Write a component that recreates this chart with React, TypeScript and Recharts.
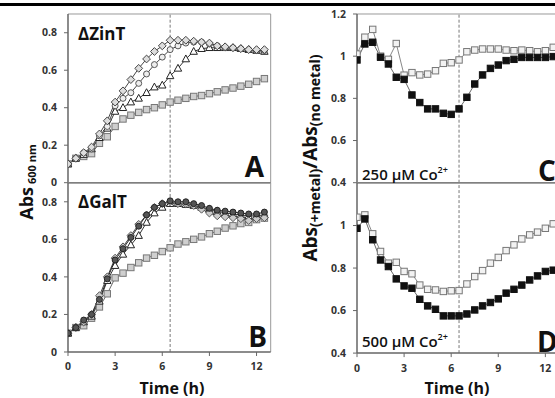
import { LineChart, Line, XAxis, YAxis, ReferenceLine } from 'recharts';

// sampling times (h)
const TIME = [0, 0.5, 1, 1.5, 2, 2.5, 3, 3.5, 4, 4.5, 5, 5.5, 6, 6.5, 7, 7.5, 8, 8.5, 9, 9.5, 10, 10.5, 11, 11.5, 12, 12.5];

// panel A - ΔZinT, Abs 600 nm
const ZINT_DIAMOND = [0.10, 0.13, 0.16, 0.19, 0.26, 0.33, 0.43, 0.49, 0.55, 0.61, 0.66, 0.70, 0.73, 0.76, 0.76, 0.76, 0.755, 0.75, 0.745, 0.73, 0.725, 0.72, 0.715, 0.71, 0.71, 0.71];
const ZINT_CIRCLE = [0.10, 0.13, 0.16, 0.18, 0.25, 0.30, 0.41, 0.45, 0.48, 0.53, 0.58, 0.63, 0.67, 0.71, 0.73, 0.745, 0.75, 0.75, 0.74, 0.73, 0.72, 0.72, 0.715, 0.71, 0.705, 0.705];
const ZINT_TRIANGLE = [0.10, 0.13, 0.15, 0.18, 0.24, 0.29, 0.38, 0.40, 0.43, 0.45, 0.48, 0.51, 0.52, 0.57, 0.61, 0.66, 0.70, 0.715, 0.72, 0.72, 0.72, 0.72, 0.715, 0.71, 0.705, 0.70];
const ZINT_SQUARE = [0.10, 0.13, 0.14, 0.155, 0.21, 0.245, 0.30, 0.34, 0.36, 0.375, 0.39, 0.40, 0.415, 0.43, 0.44, 0.45, 0.46, 0.465, 0.475, 0.485, 0.495, 0.505, 0.515, 0.525, 0.54, 0.555];

// panel B - ΔGalT, Abs 600 nm
const GALT_CIRCLE = [0.10, 0.13, 0.17, 0.20, 0.28, 0.39, 0.49, 0.55, 0.61, 0.67, 0.73, 0.77, 0.79, 0.805, 0.80, 0.80, 0.79, 0.78, 0.765, 0.755, 0.75, 0.745, 0.74, 0.735, 0.735, 0.745];
const GALT_DIAMOND = [0.10, 0.13, 0.16, 0.20, 0.30, 0.40, 0.50, 0.56, 0.62, 0.68, 0.73, 0.77, 0.79, 0.80, 0.79, 0.79, 0.78, 0.76, 0.74, 0.725, 0.72, 0.715, 0.71, 0.70, 0.71, 0.715];
const GALT_TRIANGLE = [0.10, 0.13, 0.16, 0.19, 0.27, 0.38, 0.46, 0.52, 0.57, 0.62, 0.69, 0.74, 0.77, 0.79, 0.79, 0.785, 0.78, 0.77, 0.76, 0.75, 0.74, 0.735, 0.73, 0.725, 0.725, 0.73];
const GALT_SQUARE = [0.10, 0.13, 0.14, 0.18, 0.24, 0.31, 0.395, 0.42, 0.45, 0.475, 0.50, 0.515, 0.535, 0.555, 0.575, 0.587, 0.60, 0.613, 0.63, 0.643, 0.66, 0.672, 0.684, 0.69, 0.705, 0.713];

// panel C - 250 µM Co2+, Abs(+metal)/Abs(no metal)
const CO250_OPEN = [1.01, 1.09, 1.127, 1.0, 0.985, 1.06, 0.91, 0.922, 0.911, 0.915, 0.931, 0.966, 0.969, 0.982, 1.021, 1.029, 1.034, 1.034, 1.034, 1.029, 1.026, 1.029, 1.026, 1.021, 1.026, 1.042];
const CO250_FILLED = [0.982, 1.058, 1.066, 0.995, 0.963, 0.90, 0.89, 0.816, 0.78, 0.75, 0.75, 0.729, 0.724, 0.75, 0.805, 0.868, 0.911, 0.942, 0.958, 0.979, 0.985, 0.994, 0.994, 0.994, 0.994, 0.998];

// panel D - 500 µM Co2+
const CO500_OPEN = [1.039, 1.05, 0.961, 0.878, 0.823, 0.827, 0.784, 0.773, 0.72, 0.70, 0.697, 0.69, 0.693, 0.694, 0.725, 0.76, 0.788, 0.823, 0.85, 0.882, 0.909, 0.937, 0.956, 0.969, 0.987, 1.008];
const CO500_FILLED = [0.987, 1.031, 0.933, 0.838, 0.807, 0.749, 0.716, 0.705, 0.653, 0.622, 0.606, 0.575, 0.575, 0.575, 0.584, 0.603, 0.622, 0.638, 0.655, 0.682, 0.70, 0.72, 0.744, 0.763, 0.784, 0.79];

const X_TICKS = [0, 3, 6, 9, 12];
const ABS_TICKS = [0, 0.2, 0.4, 0.6, 0.8];
const RATIO_TICKS_C = [0.4, 0.6, 0.8, 1, 1.2];
const RATIO_TICKS_D = [0.4, 0.6, 0.8, 1];
const SWITCH_TIME = 6.5;
const X_MAX = 12.9;

const FONT = "'Open Sans', 'DejaVu Sans', sans-serif";
const AXIS = '#666';

type Shape = 'diamond' | 'circle' | 'triangle' | 'square';
interface SeriesDef {
  key: string;
  values: number[];
  shape: Shape;
  fill: string;
  stroke: string;
  line: string;
}

const dotFor = (shape: Shape, fill: string, stroke: string) => (p: any) => {
  const { cx, cy, index } = p;
  const k = `dot-${index}`;
  if (typeof cx !== 'number' || typeof cy !== 'number') return <g key={k} />;
  if (shape === 'diamond') {
    const r = 3.9;
    return <path key={k} d={`M${cx},${cy - r}L${cx + r},${cy}L${cx},${cy + r}L${cx - r},${cy}Z`} fill={fill} stroke={stroke} strokeWidth={1} />;
  }
  if (shape === 'circle') {
    return <circle key={k} cx={cx} cy={cy} r={3} fill={fill} stroke={stroke} strokeWidth={1} />;
  }
  if (shape === 'triangle') {
    return <path key={k} d={`M${cx},${cy - 4}L${cx + 3.7},${cy + 2.8}L${cx - 3.7},${cy + 2.8}Z`} fill={fill} stroke={stroke} strokeWidth={1} />;
  }
  const h = 3.2;
  return <rect key={k} x={cx - h} y={cy - h} width={h * 2} height={h * 2} fill={fill} stroke={stroke} strokeWidth={1} />;
};

const fmt = (v: number) => String(Number(v.toFixed(1)));

const YW = 40;
const XH = 24;
const MT = 8;
const MR = 3;

interface PanelProps {
  left: number;
  top: number;
  pw: number;
  ph: number;
  domain: [number, number];
  ticks: number[];
  showX: boolean;
  series: SeriesDef[];
}

function Panel({ left, top, pw, ph, domain, ticks, showX, series }: PanelProps) {
  const rows = TIME.map((t, i) => {
    const r: Record<string, number> = { t };
    series.forEach((s) => (r[s.key] = s.values[i]));
    return r;
  });
  const tickStyle = { fill: '#333', fontSize: 10.5, fontWeight: 700, fontFamily: FONT };
  return (
    <div style={{ position: 'absolute', left: left - YW, top: top - MT }}>
      <LineChart width={YW + pw + MR} height={MT + ph + XH} data={rows} margin={{ top: MT, right: MR, left: 0, bottom: 0 }}>
        <XAxis
          type="number"
          dataKey="t"
          domain={[0, X_MAX]}
          ticks={X_TICKS}
          interval={0}
          allowDataOverflow
          height={XH}
          tick={showX ? tickStyle : false}
          tickSize={4}
          tickMargin={7}
          axisLine={{ stroke: AXIS, strokeWidth: 1.5 }}
          tickLine={{ stroke: AXIS }}
        />
        <YAxis
          type="number"
          domain={domain}
          ticks={ticks}
          interval={0}
          allowDataOverflow
          width={YW}
          tick={tickStyle}
          tickFormatter={fmt}
          tickSize={4}
          tickMargin={7}
          axisLine={{ stroke: AXIS, strokeWidth: 1.5 }}
          tickLine={{ stroke: AXIS }}
        />
        <ReferenceLine y={domain[1]} stroke="#999" strokeWidth={1} />
        <ReferenceLine x={X_MAX} stroke="#999" strokeWidth={1} />
        <ReferenceLine x={SWITCH_TIME} stroke="#777" strokeWidth={1} strokeDasharray="3 2" />
        {series.map((s) => (
          <Line
            key={s.key}
            dataKey={s.key}
            stroke={s.line}
            strokeWidth={1}
            dot={dotFor(s.shape, s.fill, s.stroke)}
            activeDot={false}
            isAnimationActive={false}
          />
        ))}
      </LineChart>
    </div>
  );
}

const seriesA: SeriesDef[] = [
  { key: 'sq', values: ZINT_SQUARE, shape: 'square', fill: '#cfcfcf', stroke: '#777', line: '#666' },
  { key: 'tri', values: ZINT_TRIANGLE, shape: 'triangle', fill: '#fff', stroke: '#222', line: '#333' },
  { key: 'cir', values: ZINT_CIRCLE, shape: 'circle', fill: '#eee', stroke: '#555', line: '#444' },
  { key: 'dia', values: ZINT_DIAMOND, shape: 'diamond', fill: '#ddd', stroke: '#444', line: '#444' },
];

const seriesB: SeriesDef[] = [
  { key: 'sq', values: GALT_SQUARE, shape: 'square', fill: '#cfcfcf', stroke: '#777', line: '#666' },
  { key: 'tri', values: GALT_TRIANGLE, shape: 'triangle', fill: '#fff', stroke: '#222', line: '#333' },
  { key: 'dia', values: GALT_DIAMOND, shape: 'diamond', fill: '#ccc', stroke: '#555', line: '#444' },
  { key: 'cir', values: GALT_CIRCLE, shape: 'circle', fill: '#555', stroke: '#222', line: '#222' },
];

const seriesC: SeriesDef[] = [
  { key: 'open', values: CO250_OPEN, shape: 'square', fill: '#f2f2f2', stroke: '#777', line: '#888' },
  { key: 'fill', values: CO250_FILLED, shape: 'square', fill: '#111', stroke: '#111', line: '#666' },
];

const seriesD: SeriesDef[] = [
  { key: 'open', values: CO500_OPEN, shape: 'square', fill: '#f2f2f2', stroke: '#777', line: '#888' },
  { key: 'fill', values: CO500_FILLED, shape: 'square', fill: '#111', stroke: '#111', line: '#666' },
];

export default function App() {
  const bold = { fontFamily: FONT, fontWeight: 700, fill: '#111' };
  return (
    <div style={{ position: 'fixed', left: 0, top: 0, width: 555, height: 398, overflow: 'hidden', background: '#fff' }}>
      <div style={{ position: 'absolute', left: 0, top: 3, width: 555, height: 3, background: '#000' }} />
      <Panel left={68.3} top={14} pw={202.7} ph={168.7} domain={[0, 0.9]} ticks={ABS_TICKS} showX={false} series={seriesA} />
      <Panel left={68.3} top={182.7} pw={202.7} ph={169} domain={[0, 0.9]} ticks={ABS_TICKS} showX series={seriesB} />
      <Panel left={357.3} top={14} pw={202.5} ph={168.7} domain={[0.4, 1.2]} ticks={RATIO_TICKS_C} showX={false} series={seriesC} />
      <Panel left={357.3} top={183.2} pw={202.5} ph={170.1} domain={[0.4, 1.2]} ticks={RATIO_TICKS_D} showX series={seriesD} />
      <svg width={555} height={398} style={{ position: 'absolute', left: 0, top: 0, pointerEvents: 'none' }}>
        <text x={78} y={39.5} fontSize={17} {...bold}>ΔZinT</text>
        <text x={78} y={208} fontSize={17} {...bold}>ΔGalT</text>
        <text x={362} y={180} fontSize={15} fontFamily={FONT} fontWeight={600} fill="#111">
          250 µM Co<tspan fontSize={9} dy={-7}>2+</tspan>
        </text>
        <text x={362} y={346.5} fontSize={15} fontFamily={FONT} fontWeight={600} fill="#111">
          500 µM Co<tspan fontSize={9} dy={-7}>2+</tspan>
        </text>
        <text x={264} y={177} fontSize={28} textAnchor="end" {...bold}>A</text>
        <text x={267} y={347} fontSize={28} textAnchor="end" {...bold}>B</text>
        <text x={538} y={181} fontSize={28} {...bold}>C</text>
        <text x={537} y={352} fontSize={28} {...bold}>D</text>
        <text x={172} y={394} fontSize={16} textAnchor="middle" {...bold}>Time (h)</text>
        <text x={457} y={394} fontSize={16} textAnchor="middle" {...bold}>Time (h)</text>
        <text transform="translate(33,182) rotate(-90)" textAnchor="middle" fontSize={18} {...bold}>
          Abs<tspan fontSize={11} dy={3}> 600 nm</tspan>
        </text>
        <text transform="translate(317,158) rotate(-90)" textAnchor="middle" fontSize={19} {...bold}>
          Abs<tspan fontSize={14} dy={3}>(+metal)</tspan>
          <tspan dy={-3}>/Abs</tspan>
          <tspan fontSize={14} dy={3}>(no metal)</tspan>
        </text>
      </svg>
    </div>
  );
}
